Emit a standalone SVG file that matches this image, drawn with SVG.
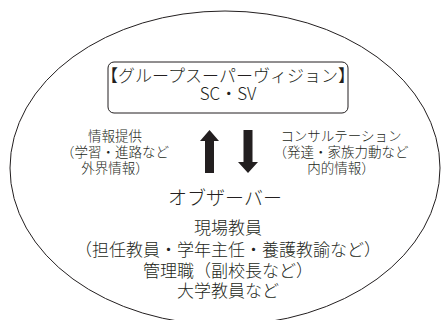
<svg xmlns="http://www.w3.org/2000/svg" width="444" height="320" viewBox="0 0 444 320">
<style>
text{font-family:"Noto Sans CJK JP","Noto Sans CJK SC",sans-serif;font-weight:300;fill:#231f20;text-anchor:middle}
.t{font-size:17px}
.s{font-size:13.5px}
.o{font-size:19px}
.line{fill:none;stroke:#231f20;stroke-width:1}
.arrow{fill:#231f20}
</style>
<rect width="444" height="320" fill="#fff"/>
<g id="outer">
<ellipse class="line" cx="225" cy="168" rx="215" ry="157"/>
</g>
<g id="supervision">
<rect class="line" x="108" y="62" width="240" height="51" rx="6"/>
<text class="t" x="228" y="82">【グループスーパーヴィジョン】</text>
<text class="t" x="228" y="100">SC・SV</text>
</g>
<g id="connectors">
<path class="arrow" d="M209.5 130 L219 141 L214 141 L214 173 L205 173 L205 141 L200 141 Z"/>
<path class="arrow" d="M248 173 L258 162 L252.5 162 L252.5 130 L243.5 130 L243.5 162 L238 162 Z"/>
</g>
<g id="info">
<text class="s" x="115" y="141">情報提供</text>
<text class="s" x="115" y="157">（学習・進路など</text>
<text class="s" x="115" y="173">外界情報）</text>
</g>
<g id="consult">
<text class="s" x="341" y="141">コンサルテーション</text>
<text class="s" x="341" y="157">（発達・家族力動など</text>
<text class="s" x="341" y="173">内的情報）</text>
</g>
<g id="observer">
<text class="o" x="225" y="205">オブザーバー</text>
<text class="t" x="228" y="234">現場教員</text>
<text class="t" x="228" y="256">（担任教員・学年主任・養護教諭など）</text>
<text class="t" x="228" y="277">管理職（副校長など）</text>
<text class="t" x="228" y="297">大学教員など</text>
</g>
</svg>
